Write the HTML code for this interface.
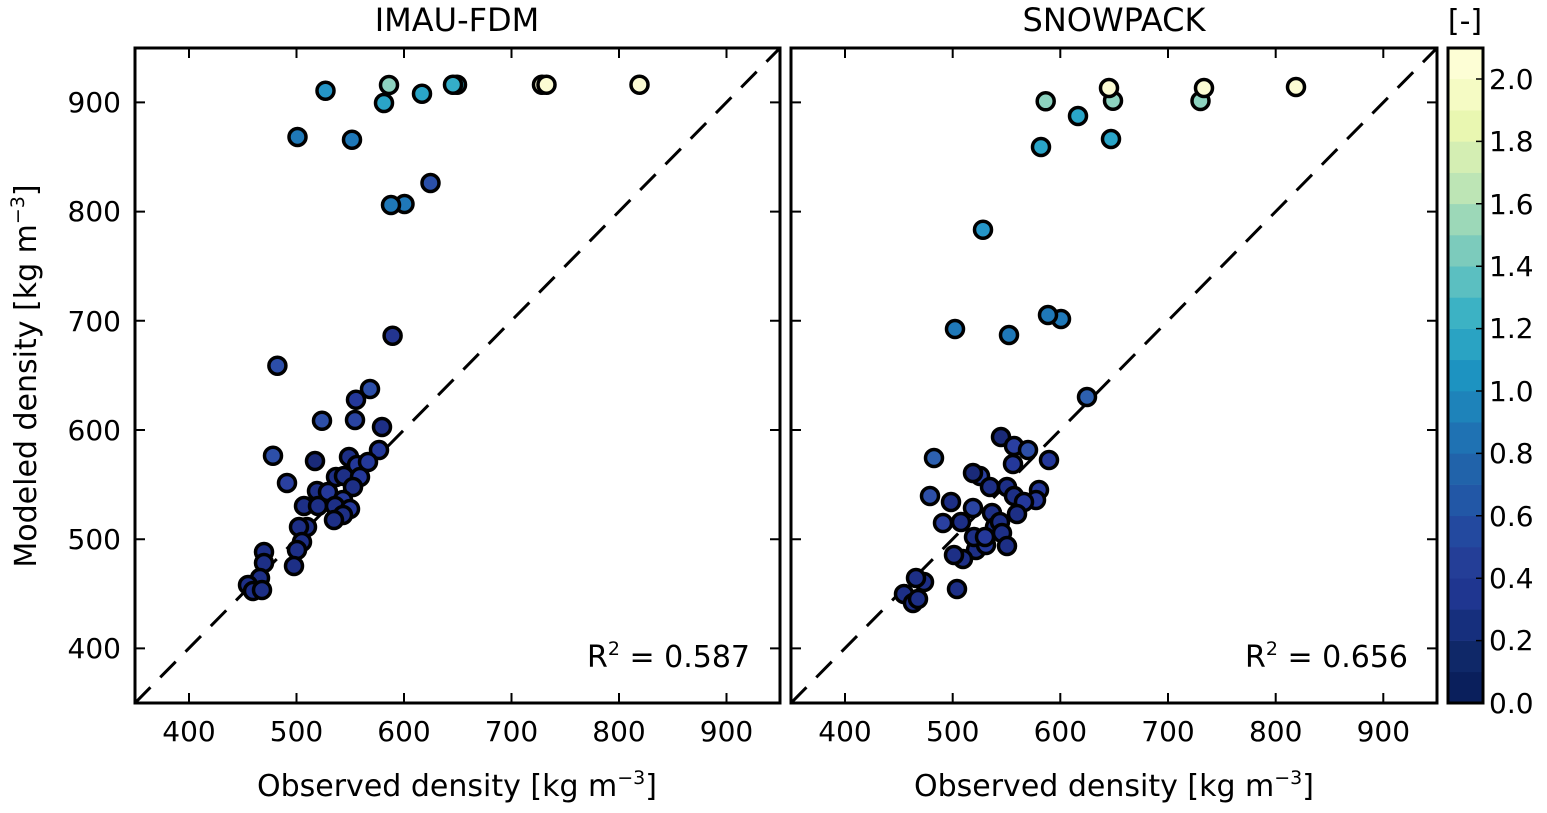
<!DOCTYPE html>
<html><head><meta charset="utf-8"><style>
body{margin:0;background:#fff}
svg text{font-family:"DejaVu Sans","Liberation Sans",sans-serif;fill:#000}
</style></head><body>
<svg width="1547" height="808" viewBox="0 0 1547 808" xmlns="http://www.w3.org/2000/svg">
<defs>
<clipPath id="cl"><rect x="135" y="48" width="645" height="655"/></clipPath>
<clipPath id="cr"><rect x="791" y="48" width="646" height="655"/></clipPath>
</defs>
<text x="457" y="31" font-size="32" text-anchor="middle">IMAU-FDM</text>
<text x="1114" y="31" font-size="32" text-anchor="middle">SNOWPACK</text>
<text x="1465" y="31" font-size="30" text-anchor="middle">[-]</text>

<g clip-path="url(#cl)">
<line x1="135" y1="703" x2="780" y2="48" stroke="#000" stroke-width="3" stroke-dasharray="22,14"/>
<g stroke="#000" stroke-width="3.5">
<circle cx="325.5" cy="90.7" r="8.5" fill="#2596c8"/>
<circle cx="389" cy="85" r="8.5" fill="#8dd3c0"/>
<circle cx="384" cy="103" r="8.5" fill="#2aa5c8"/>
<circle cx="422" cy="93.7" r="8.5" fill="#2aa5c8"/>
<circle cx="457" cy="84.7" r="8.5" fill="#34adc9"/>
<circle cx="453" cy="84.7" r="8.5" fill="#34adc9"/>
<circle cx="542" cy="84.7" r="8.5" fill="#fbfbd3"/>
<circle cx="546.5" cy="84.7" r="8.5" fill="#fbfbd3"/>
<circle cx="639.5" cy="84.7" r="8.5" fill="#fbfbd3"/>
<circle cx="297.5" cy="137" r="8.5" fill="#1f78b8"/>
<circle cx="352" cy="139.7" r="8.5" fill="#1f78b8"/>
<circle cx="430.5" cy="183" r="8.5" fill="#2a4fa8"/>
<circle cx="404.5" cy="204" r="8.5" fill="#1f78b8"/>
<circle cx="391" cy="205" r="8.5" fill="#1f78b8"/>
<circle cx="392.6" cy="335.7" r="8.5" fill="#233590"/>
<circle cx="277.4" cy="365.7" r="8.5" fill="#2c4ea8"/>
<circle cx="370" cy="389" r="8.5" fill="#2d4fa8"/>
<circle cx="356" cy="399.7" r="8.5" fill="#24389a"/>
<circle cx="322" cy="420.7" r="8.5" fill="#2d4fa8"/>
<circle cx="355" cy="420" r="8.5" fill="#2a44a0"/>
<circle cx="382" cy="427" r="8.5" fill="#1d2f86"/>
<circle cx="273" cy="455.7" r="8.5" fill="#2d4fa8"/>
<circle cx="315" cy="461" r="8.5" fill="#1a2a78"/>
<circle cx="287" cy="483" r="8.5" fill="#2a40a0"/>
<circle cx="379" cy="450" r="8.5" fill="#24399a"/>
<circle cx="349" cy="457" r="8.5" fill="#1d2f86"/>
<circle cx="357" cy="465" r="8.5" fill="#24389a"/>
<circle cx="368" cy="462" r="8.5" fill="#24399a"/>
<circle cx="336" cy="477" r="8.5" fill="#1d2f86"/>
<circle cx="344" cy="476" r="8.5" fill="#1d2f86"/>
<circle cx="360" cy="477" r="8.5" fill="#24389a"/>
<circle cx="317" cy="491" r="8.5" fill="#1d2f86"/>
<circle cx="328" cy="492" r="8.5" fill="#24389a"/>
<circle cx="353" cy="487" r="8.5" fill="#1d2f86"/>
<circle cx="343" cy="500" r="8.5" fill="#24389a"/>
<circle cx="304" cy="506" r="8.5" fill="#1d2f86"/>
<circle cx="318" cy="506" r="8.5" fill="#1d2f86"/>
<circle cx="335" cy="506" r="8.5" fill="#1d2f86"/>
<circle cx="350" cy="509" r="8.5" fill="#24389a"/>
<circle cx="343" cy="515" r="8.5" fill="#1d2f86"/>
<circle cx="334" cy="520" r="8.5" fill="#1d2f86"/>
<circle cx="307" cy="527" r="8.5" fill="#1d2f86"/>
<circle cx="299" cy="527" r="8.5" fill="#1d2f86"/>
<circle cx="302" cy="542" r="8.5" fill="#1d2f86"/>
<circle cx="297" cy="550" r="8.5" fill="#1d2f86"/>
<circle cx="294" cy="566" r="8.5" fill="#1d2f86"/>
<circle cx="264" cy="552" r="8.5" fill="#1d2f86"/>
<circle cx="264" cy="563" r="8.5" fill="#1d2f86"/>
<circle cx="260" cy="578" r="8.5" fill="#1d2f86"/>
<circle cx="248" cy="585" r="8.5" fill="#1d2f86"/>
<circle cx="253" cy="591" r="8.5" fill="#1d2f86"/>
<circle cx="262" cy="590" r="8.5" fill="#1d2f86"/>
</g>
</g>
<rect x="135" y="48" width="645" height="655" fill="none" stroke="#000" stroke-width="3"/>
<g stroke="#000" stroke-width="2">
<path d="M189 48v10M296.5 48v10M404 48v10M511.5 48v10M619 48v10M726.5 48v10M189 703v-10M296.5 703v-10M404 703v-10M511.5 703v-10M619 703v-10M726.5 703v-10"/>
<path d="M135 648.4h10M135 539.2h10M135 430h10M135 320.8h10M135 211.6h10M135 102.4h10M780 648.4h-10M780 539.2h-10M780 430h-10M780 320.8h-10M780 211.6h-10M780 102.4h-10"/>
</g>
<g font-size="28" text-anchor="middle">
<text x="189" y="741">400</text><text x="296.5" y="741">500</text><text x="404" y="741">600</text><text x="511.5" y="741">700</text><text x="619" y="741">800</text><text x="726.5" y="741">900</text>
</g>
<g font-size="28" text-anchor="end">
<text x="121" y="658">400</text><text x="121" y="549">500</text><text x="121" y="440">600</text><text x="121" y="331">700</text><text x="121" y="221">800</text><text x="121" y="112">900</text>
</g>
<text x="750" y="667" font-size="30" text-anchor="end">R<tspan font-size="19" dy="-12">2</tspan><tspan dy="12"> = 0.587</tspan></text>
<text x="457" y="796" font-size="30" text-anchor="middle">Observed density [kg m<tspan font-size="19" dy="-12">−3</tspan><tspan dy="12">]</tspan></text>
<text transform="translate(36,376) rotate(-90)" font-size="30" text-anchor="middle">Modeled density [kg m<tspan font-size="19" dy="-12">−3</tspan><tspan dy="12">]</tspan></text>

<g clip-path="url(#cr)">
<line x1="791" y1="703" x2="1437" y2="48" stroke="#000" stroke-width="3" stroke-dasharray="22,14"/>
<g stroke="#000" stroke-width="3.5">
<circle cx="1113" cy="100.7" r="8.5" fill="#8dd3c0"/>
<circle cx="1109" cy="88" r="8.5" fill="#fbfbd3"/>
<circle cx="1045.7" cy="101.3" r="8.5" fill="#8dd3c0"/>
<circle cx="1078" cy="116" r="8.5" fill="#2aa5c8"/>
<circle cx="1041" cy="147" r="8.5" fill="#2aa5c8"/>
<circle cx="1111" cy="139" r="8.5" fill="#2aa5c8"/>
<circle cx="1200.5" cy="101" r="8.5" fill="#8dd3c0"/>
<circle cx="1204" cy="88" r="8.5" fill="#fbfbd3"/>
<circle cx="1296" cy="87" r="8.5" fill="#fbfbd3"/>
<circle cx="983" cy="229.7" r="8.5" fill="#2596c8"/>
<circle cx="955" cy="329" r="8.5" fill="#1f78b8"/>
<circle cx="1009" cy="335" r="8.5" fill="#1f78b8"/>
<circle cx="1061" cy="319" r="8.5" fill="#1f78b8"/>
<circle cx="1048" cy="315" r="8.5" fill="#1f78b8"/>
<circle cx="1087" cy="397" r="8.5" fill="#2d60b0"/>
<circle cx="1001" cy="437" r="8.5" fill="#1a2a78"/>
<circle cx="1014" cy="446" r="8.5" fill="#2a3fa0"/>
<circle cx="1028" cy="450" r="8.5" fill="#2d4fa8"/>
<circle cx="1049" cy="460" r="8.5" fill="#24389a"/>
<circle cx="934" cy="458" r="8.5" fill="#2d60b0"/>
<circle cx="1013" cy="464" r="8.5" fill="#24389a"/>
<circle cx="980" cy="476" r="8.5" fill="#2a40a0"/>
<circle cx="973" cy="473" r="8.5" fill="#1a2a78"/>
<circle cx="990" cy="487" r="8.5" fill="#1d2f86"/>
<circle cx="1007" cy="487" r="8.5" fill="#1d2f86"/>
<circle cx="1039" cy="490" r="8.5" fill="#24389a"/>
<circle cx="1036" cy="500" r="8.5" fill="#24389a"/>
<circle cx="1014" cy="496" r="8.5" fill="#1d2f86"/>
<circle cx="1024" cy="502" r="8.5" fill="#24389a"/>
<circle cx="930" cy="496" r="8.5" fill="#2d4fa8"/>
<circle cx="951" cy="502" r="8.5" fill="#1d2f86"/>
<circle cx="973" cy="508" r="8.5" fill="#2a44a0"/>
<circle cx="992" cy="513" r="8.5" fill="#1d2f86"/>
<circle cx="1017" cy="514" r="8.5" fill="#1d2f86"/>
<circle cx="943" cy="523" r="8.5" fill="#2a40a0"/>
<circle cx="961" cy="522" r="8.5" fill="#1d2f86"/>
<circle cx="995" cy="527" r="8.5" fill="#1d2f86"/>
<circle cx="1000" cy="522" r="8.5" fill="#1d2f86"/>
<circle cx="976" cy="550" r="8.5" fill="#1d2f86"/>
<circle cx="986" cy="545" r="8.5" fill="#24389a"/>
<circle cx="974" cy="537" r="8.5" fill="#1d2f86"/>
<circle cx="985" cy="537" r="8.5" fill="#24389a"/>
<circle cx="1002" cy="533" r="8.5" fill="#1d2f86"/>
<circle cx="1007" cy="546" r="8.5" fill="#1d2f86"/>
<circle cx="963" cy="559" r="8.5" fill="#1d2f86"/>
<circle cx="954" cy="555" r="8.5" fill="#1d2f86"/>
<circle cx="957" cy="589" r="8.5" fill="#1d2f86"/>
<circle cx="924" cy="582" r="8.5" fill="#1d2f86"/>
<circle cx="916" cy="578" r="8.5" fill="#1d2f86"/>
<circle cx="904" cy="594" r="8.5" fill="#1d2f86"/>
<circle cx="913" cy="603" r="8.5" fill="#1d2f86"/>
<circle cx="918" cy="599" r="8.5" fill="#1d2f86"/>
</g>
</g>
<rect x="791" y="48" width="646" height="655" fill="none" stroke="#000" stroke-width="3"/>
<g stroke="#000" stroke-width="2">
<path d="M845 48v10M952.7 48v10M1060.3 48v10M1168 48v10M1275.7 48v10M1383.3 48v10M845 703v-10M952.7 703v-10M1060.3 703v-10M1168 703v-10M1275.7 703v-10M1383.3 703v-10"/>
<path d="M791 648.4h10M791 539.2h10M791 430h10M791 320.8h10M791 211.6h10M791 102.4h10M1437 648.4h-10M1437 539.2h-10M1437 430h-10M1437 320.8h-10M1437 211.6h-10M1437 102.4h-10"/>
</g>
<g font-size="28" text-anchor="middle">
<text x="845" y="741">400</text><text x="952.7" y="741">500</text><text x="1060.3" y="741">600</text><text x="1168" y="741">700</text><text x="1275.7" y="741">800</text><text x="1383.3" y="741">900</text>
</g>
<text x="1408" y="667" font-size="30" text-anchor="end">R<tspan font-size="19" dy="-12">2</tspan><tspan dy="12"> = 0.656</tspan></text>
<text x="1114" y="796" font-size="30" text-anchor="middle">Observed density [kg m<tspan font-size="19" dy="-12">−3</tspan><tspan dy="12">]</tspan></text>

<g>
<rect x="1448" y="671.8" width="35" height="31.5" fill="#0a1f5c"/>
<rect x="1448" y="640.6" width="35" height="31.5" fill="#0f2868"/>
<rect x="1448" y="609.4" width="35" height="31.5" fill="#162f7d"/>
<rect x="1448" y="578.2" width="35" height="31.5" fill="#1f3690"/>
<rect x="1448" y="547" width="35" height="31.5" fill="#243e97"/>
<rect x="1448" y="515.8" width="35" height="31.5" fill="#23499f"/>
<rect x="1448" y="484.6" width="35" height="31.5" fill="#2257a6"/>
<rect x="1448" y="453.4" width="35" height="31.5" fill="#2163aa"/>
<rect x="1448" y="422.2" width="35" height="31.5" fill="#1f72b3"/>
<rect x="1448" y="391" width="35" height="31.5" fill="#1e83ba"/>
<rect x="1448" y="359.8" width="35" height="31.5" fill="#1d93c1"/>
<rect x="1448" y="328.6" width="35" height="31.5" fill="#2aa3c3"/>
<rect x="1448" y="297.4" width="35" height="31.5" fill="#3cb2c4"/>
<rect x="1448" y="266.2" width="35" height="31.5" fill="#5bbfc1"/>
<rect x="1448" y="235" width="35" height="31.5" fill="#7ccbbc"/>
<rect x="1448" y="203.8" width="35" height="31.5" fill="#9cd8b8"/>
<rect x="1448" y="172.6" width="35" height="31.5" fill="#bde5b5"/>
<rect x="1448" y="141.4" width="35" height="31.5" fill="#d4eeb3"/>
<rect x="1448" y="110.2" width="35" height="31.5" fill="#e9f7b1"/>
<rect x="1448" y="79" width="35" height="31.5" fill="#f5fbc4"/>
<rect x="1448" y="48" width="35" height="31.2" fill="#fdfed5"/>
</g>
<rect x="1448" y="48" width="35" height="655" fill="none" stroke="#000" stroke-width="3"/>
<g stroke="#000" stroke-width="1.5">
<path d="M1483 703h-7M1483 640.6h-7M1483 578.2h-7M1483 515.8h-7M1483 453.4h-7M1483 391h-7M1483 328.6h-7M1483 266.2h-7M1483 203.8h-7M1483 141.4h-7M1483 79h-7"/>
</g>
<g font-size="28">
<text x="1489" y="713">0.0</text><text x="1489" y="650">0.2</text><text x="1489" y="588">0.4</text><text x="1489" y="526">0.6</text><text x="1489" y="463">0.8</text><text x="1489" y="401">1.0</text><text x="1489" y="338">1.2</text><text x="1489" y="276">1.4</text><text x="1489" y="214">1.6</text><text x="1489" y="151">1.8</text><text x="1489" y="89">2.0</text>
</g>
</svg>
</body></html>
